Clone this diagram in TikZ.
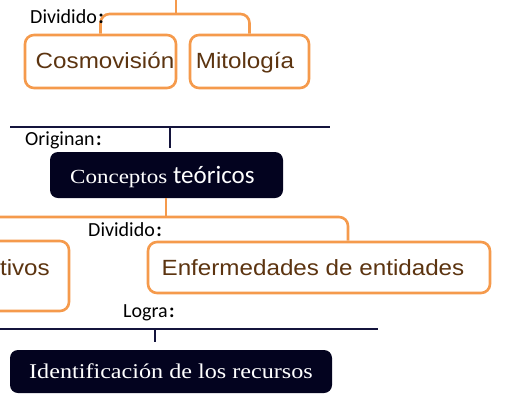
\documentclass[tikz,border=0pt]{standalone}
\usepackage{fontspec}
\setmainfont{Liberation Serif}
\newfontfamily\serifw[FakeStretch=1.15]{Liberation Serif}
\newfontfamily\arialw[FakeStretch=1.1]{Liberation Sans}
\newfontfamily\calib{Carlito}
\definecolor{orng}{HTML}{F59A4C}
\definecolor{brwn}{HTML}{5C3410}
\definecolor{navy}{HTML}{03031F}
\definecolor{navyline}{HTML}{14143C}
\newcommand{\bcolon}{\hspace{1.5pt}{\bfseries:}}
\begin{document}
\begin{tikzpicture}[x=1pt,y=-1pt,
  obox/.style={draw=orng,line width=2.6pt,rounded corners=9pt,fill=white,inner sep=0pt},
  otext/.style={text=brwn,font=\arialw\fontsize{22}{22}\selectfont},
  dbox/.style={fill=navy,rounded corners=8pt,inner sep=0pt,text=white},
  olink/.style={draw=orng,line width=2.6pt,rounded corners=9pt},
  nlink/.style={draw=navyline,line width=2pt},
  lbl/.style={font=\calib\fontsize{20}{20}\selectfont,anchor=base west,inner sep=0pt}]
\useasboundingbox (0,0) rectangle (508,394);
% top connector
\coordinate (t0) at (176,0);
\coordinate (t1) at (176,14);
\node[obox,minimum width=151pt,minimum height=53pt] (cosmo) at (100.5,61.5) {};
\node[otext,anchor=base] (cosmot) at (105,68) {Cosmovisión};
\node[obox,minimum width=119pt,minimum height=53pt] (mito) at (249.5,61.5) {};
\node[otext,anchor=base] (mitot) at (245,68) {Mitología};
\draw[olink] (t0) -- (t1);
\draw[olink] (cosmo.north) |- (t1) -| (mito.north);
\node[lbl] (div1) at (30,23) {Dividido\bcolon};
% originan
\coordinate (l1a) at (10,127);
\coordinate (l1b) at (330,127);
\coordinate (k1a) at (170,127);
\coordinate (k1b) at (170,148);
\draw[nlink] (l1a) -- (l1b);
\draw[nlink] (k1a) -- (k1b);
\node[lbl] (orig) at (25,145) {Originan\bcolon};
\node[dbox,minimum width=233pt,minimum height=46pt] (conc) at (166.5,175) {};
\node[anchor=base west,inner sep=0pt,text=white] (conct) at (70,183) {\serifw\fontsize{20}{20}\selectfont Conceptos\ \calib\fontsize{25}{25}\selectfont teóricos};
% second orange connector
\coordinate (c2) at (166,217);
\coordinate (lft) at (0,217);
\node[obox,minimum width=130pt,minimum height=70pt] (tiv) at (4,276) {};
\node[otext,anchor=base east,inner sep=0pt] (tivt) at (50,275) {tivos};
\node[obox,minimum width=342pt,minimum height=51pt] (enf) at (319,267.5) {};
\node[otext,anchor=base] (enft) at (313,275) {Enfermedades de entidades};
\draw[olink] (conc.south -| c2) -- (c2);
\draw[olink] (lft) -| (enf.north -| 348,0);
\node[lbl] (div2) at (88,236) {Dividido\bcolon};
% logra
\node[lbl] (logra) at (123,317) {Logra\bcolon};
\coordinate (l2a) at (0,329);
\coordinate (l2b) at (378,329);
\coordinate (k2a) at (155,329);
\coordinate (k2b) at (155,342);
\draw[nlink] (l2a) -- (l2b);
\draw[nlink] (k2a) -- (k2b);
\node[dbox,minimum width=322pt,minimum height=43pt] (ident) at (171,371.5) {};
\node[text=white,font=\serifw\fontsize{21}{21}\selectfont] at (ident) {Identificación de los recursos};
\end{tikzpicture}
\end{document}
